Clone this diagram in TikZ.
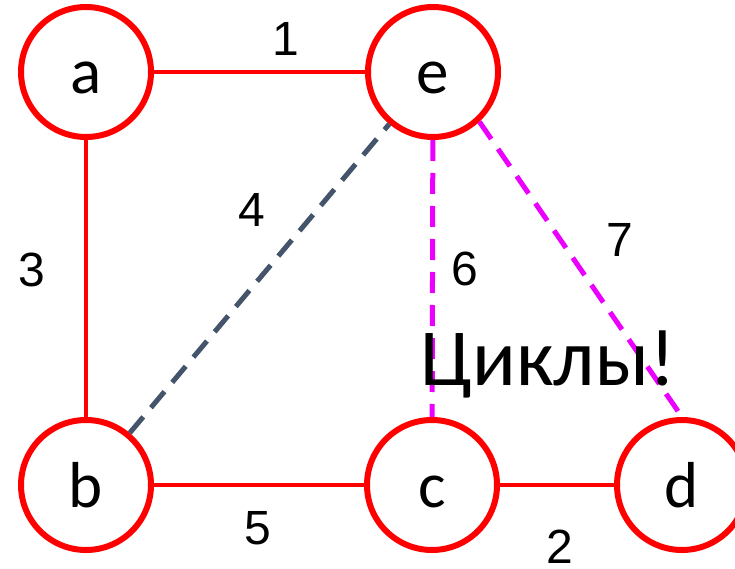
\documentclass[tikz,border=0pt]{standalone}
\usepackage{fontspec}
\setmainfont{Carlito}
\newfontfamily\digitfont{Liberation Sans}
\definecolor{edgered}{RGB}{255,0,0}
\definecolor{cyclemag}{RGB}{235,0,255}
\definecolor{slateedge}{RGB}{68,84,106}
\tikzset{
  vert/.style={circle, draw=edgered, line width=6pt, minimum size=130pt, inner sep=0pt,
    font=\fontsize{65}{70}\selectfont, text height=44pt, text depth=0pt},
  treeedge/.style={draw=edgered, line width=4.5pt},
  dashedge/.style={line width=5pt, dash pattern=on 21pt off 12pt},
  wlabel/.style={font=\digitfont\fontsize{48}{50}\selectfont, inner sep=0pt, anchor=center},
  bigtext/.style={font=\fontsize{81}{85}\selectfont, inner sep=0pt, anchor=base}
}
\begin{document}
\begin{tikzpicture}[x=1pt,y=-1pt]
\useasboundingbox (0,0) rectangle (735,569);
\node[vert] (a) at (86,72) {a};
\node[vert] (e) at (433,72) {e};
\node[vert] (b) at (86,485) {b};
\node[vert] (c) at (432,485) {c};
\node[vert] (d) at (682,485) {d};
\draw[treeedge] (a) -- (e);
\draw[treeedge] (a) -- (b);
\draw[treeedge] (b) -- (c);
\draw[treeedge] (c) -- (d);
\draw[dashedge, slateedge] (b) -- (e);
\draw[dashedge, cyclemag] (e) -- (c);
\draw[dashedge, cyclemag] (e.-47) -- (d.north);
\node[wlabel] (l1) at (286,39) {1};
\node[wlabel] (l3) at (32,270) {3};
\node[wlabel] (l4) at (252,210) {4};
\node[wlabel] (l6) at (465,269) {6};
\node[wlabel] (l7) at (620,240) {7};
\node[wlabel] (l5) at (258,528) {5};
\node[wlabel] (l2) at (560,547) {2};
\node[bigtext] (cyc) at (548,385) {Циклы!};
\end{tikzpicture}
\end{document}
